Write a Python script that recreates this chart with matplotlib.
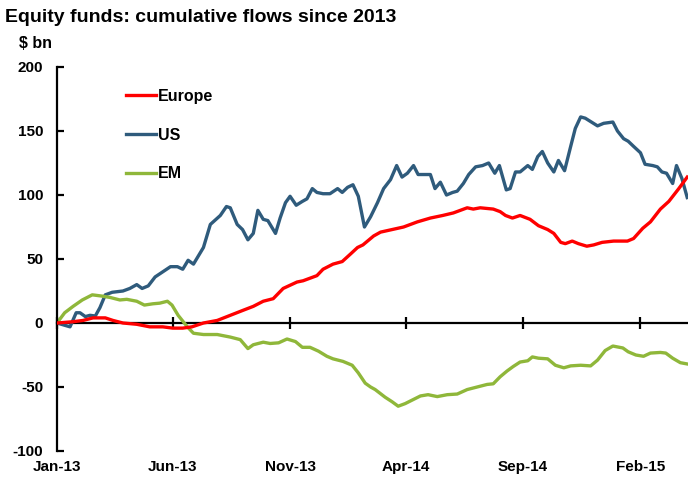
import pandas as pd
import matplotlib
matplotlib.use("Agg")
import matplotlib.pyplot as plt
import matplotlib.dates as mdates
import matplotlib.transforms as mtransforms

plt.rcParams['font.family'] = ['Liberation Sans', 'DejaVu Sans']
plt.rcParams['font.weight'] = 'bold'
plt.rcParams['axes.unicode_minus'] = False

# days since 1 Jan 2013, values in $ bn
us_days = [0, 17, 25, 30, 37, 43, 50, 56, 63, 72,
           86, 95, 104, 111, 119, 128, 138, 148, 157, 164,
           171, 178, 191, 200, 213, 221, 226, 235, 242, 249,
           256, 262, 269, 275, 285, 291, 298, 304, 312, 320,
           326, 333, 339, 347, 356, 366, 372, 379, 386, 393,
           401, 409, 418, 426, 435, 443, 450, 457, 465, 471,
           479, 487, 493, 500, 508, 516, 522, 530, 537, 546,
           555, 563, 571, 577, 586, 591, 598, 604, 614, 620,
           627, 633, 640, 648, 654, 662, 670, 676, 683, 689,
           697, 705, 713, 725, 731, 739, 745, 752, 761, 767,
           777, 783, 789, 795, 803, 808, 815, 822]
us_vals = [0, -3, 8, 8, 5, 6, 5.5, 12, 22, 24,
           25, 27, 30, 27, 29, 36, 40, 44, 44, 42,
           49, 46, 59, 77, 84, 91, 90, 77, 73, 65,
           70, 88, 81, 80, 70, 82, 94, 99, 92, 95,
           97, 105, 102, 101, 101, 105, 102, 106, 108, 99,
           75, 83, 94, 105, 112, 123, 114, 117, 123, 116,
           116, 116, 105, 110, 100, 102, 103, 109, 116, 122,
           123, 125, 117, 123, 104, 105, 118, 118, 123, 120,
           130, 134, 125, 118, 127, 119, 138, 152, 161, 160,
           157, 154, 156, 157, 150, 144, 142, 138, 133, 124,
           123, 122, 118, 117, 109, 123, 113, 98]

eu_days = [0, 21, 34, 47, 63, 73, 86, 104, 121, 138,
           151, 164, 176, 191, 209, 226, 243, 256, 269, 282,
           295, 313, 321, 339, 347, 360, 372, 383, 392, 399,
           413, 422, 437, 452, 470, 487, 503, 517, 535, 543,
           552, 569, 578, 585, 594, 604, 617, 628, 640, 648,
           657, 663, 672, 680, 691, 700, 711, 726, 744, 752,
           764, 774, 787, 798, 811, 822]
eu_vals = [0, 1, 2, 4, 4, 2, 0, -1, -3, -3,
           -4, -4, -3, 0, 2, 6, 10, 13, 17, 19,
           27, 32, 33, 37, 42, 46, 48, 54, 59, 61,
           68, 71, 73, 75, 79, 82, 84, 86, 90, 89,
           90, 89, 87, 84, 82, 84, 81, 76, 73, 70,
           63, 62, 64, 62, 60, 61, 63, 64, 64, 66,
           74, 79, 89, 95, 105, 114]

em_days = [0, 10, 21, 33, 46, 59, 69, 82, 91, 104,
           114, 125, 134, 144, 150, 158, 170, 178, 191, 209,
           226, 239, 249, 256, 269, 278, 289, 300, 311, 320,
           330, 341, 352, 360, 373, 385, 393, 402, 409, 415,
           428, 437, 445, 454, 464, 474, 484, 496, 509, 522,
           535, 548, 561, 569, 578, 587, 595, 604, 614, 620,
           628, 640, 650, 661, 670, 683, 696, 705, 715, 725,
           738, 745, 755, 765, 774, 787, 794, 803, 813, 822]
em_vals = [0, 8, 13, 18, 22, 21, 20, 18, 18.5, 17,
           14, 15, 15.5, 17, 14, 6, -3, -8, -9, -9,
           -11, -13, -20, -17, -15, -16, -15.5, -12.5, -14.5, -19,
           -19, -22, -26, -28, -30, -33, -39, -47, -50, -52,
           -58, -61.5, -65, -63, -60, -57, -56, -57.5, -56, -55.5,
           -52, -50, -48, -47.5, -42, -37.5, -34, -30.5, -29.5, -26.5,
           -27.5, -28, -33, -35, -33.5, -33, -33.5, -29, -21.5, -18,
           -19.5, -22.5, -25, -26, -23.5, -23, -23.5, -27.5, -31, -32]

tick_dates = ['2013-01-01', '2013-06-01', '2013-11-01',
              '2014-04-01', '2014-09-01', '2015-02-01']
y_ticks = [-100, -50, 0, 50, 100, 150, 200]

start = pd.Timestamp('2013-01-01')


def to_dates(days):
    return [start + pd.Timedelta(days=d) for d in days]


fig = plt.figure(figsize=(6.88, 4.79), dpi=100)
ax = fig.add_axes([57 / 688, 1 - 451 / 479, 1 - 57 / 688, 384 / 479])

ax.plot(to_dates(eu_days), eu_vals, color='#ff0000', lw=2.4, label='Europe',
        solid_joinstyle='round', zorder=3)
ax.plot(to_dates(us_days), us_vals, color='#2f5b7c', lw=2.4, label='US',
        solid_joinstyle='round', zorder=2)
ax.plot(to_dates(em_days), em_vals, color='#8fb73a', lw=2.4, label='EM',
        solid_joinstyle='round', zorder=2)

ax.set_ylim(-100, 200)
ax.set_xlim(start, start + pd.Timedelta(days=823))
ax.set_yticks(y_ticks)

ticks = pd.to_datetime(tick_dates)
ax.set_xticks(ticks)

for s in ['top', 'right']:
    ax.spines[s].set_visible(False)
ax.spines['bottom'].set_position(('data', 0))
ax.spines['bottom'].set_linewidth(1.6)
ax.spines['left'].set_linewidth(1.6)
ax.spines['bottom'].set_zorder(1)

ax.tick_params(axis='x', direction='inout', length=8, width=1.6,
               labelbottom=False)
ax.tick_params(axis='y', direction='in', length=5, width=1.6, pad=10,
               labelsize=11)
for lab in ax.get_yticklabels():
    lab.set_fontweight('bold')

trans = mtransforms.blended_transform_factory(ax.transData, ax.transAxes)
for t in ticks:
    ax.text(mdates.date2num(t), -0.042, t.strftime('%b-%y'), transform=trans,
            ha='center', va='center', fontsize=11, fontweight='bold',
            clip_on=False)

leg = ax.legend(loc='upper left', bbox_to_anchor=(126 / 688, 1 - 89 / 479),
                bbox_transform=fig.transFigure, frameon=False, fontsize=11.5,
                handlelength=1.9, handletextpad=0.1, labelspacing=1.48,
                borderpad=0, borderaxespad=0)
for txt in leg.get_texts():
    txt.set_fontweight('bold')

fig.text(5 / 688, 1 - 18 / 479, 'Equity funds: cumulative flows since 2013',
         fontsize=14, fontweight='bold', va='center', ha='left')
fig.text(19 / 688, 1 - 44 / 479, '\\$ bn', fontsize=11.5, fontweight='bold',
         va='center', ha='left')

fig.savefig('out.png', dpi=100)
